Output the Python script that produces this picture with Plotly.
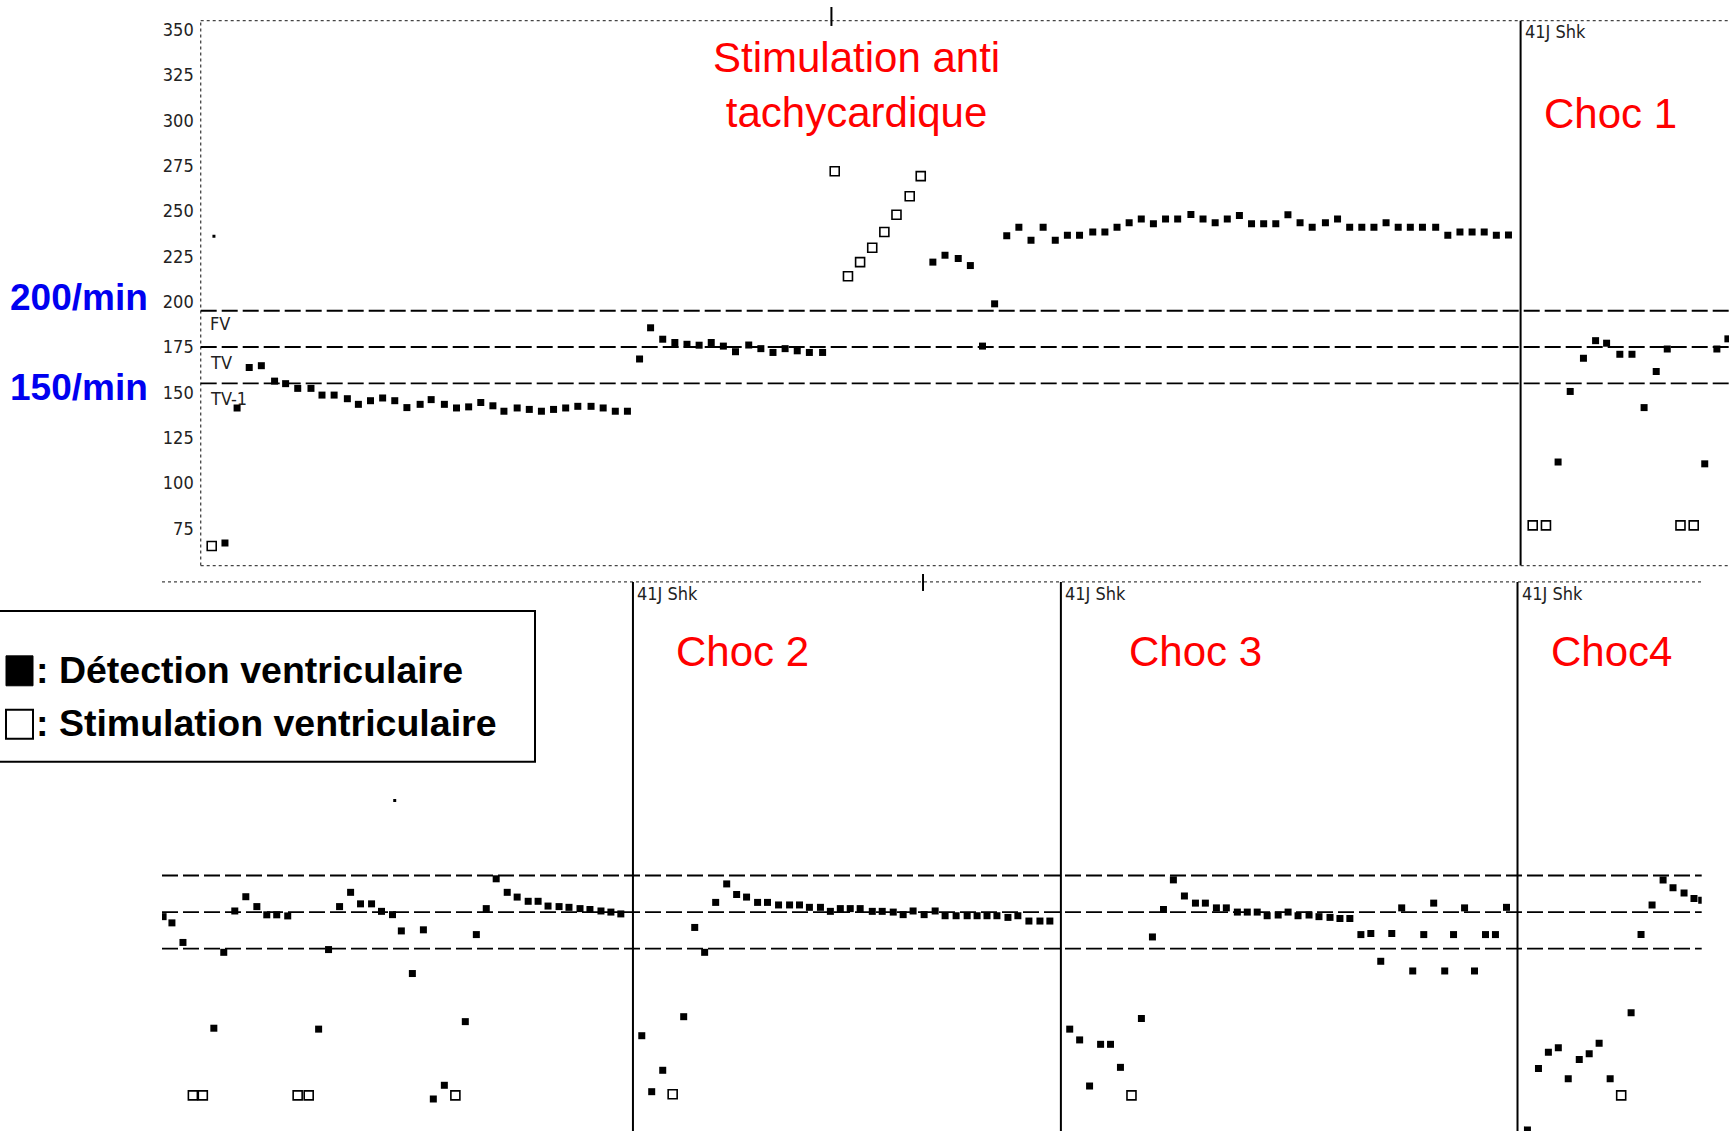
import plotly.graph_objects as go

W, H = 1729, 1131

# ---------------- data (time in trace units, rate in beats/min) ----------------
top_det_t = [204, 215, 226, 237, 249, 259, 270, 282, 292, 303, 315, 325, 336, 347, 358, 369,
             381, 391, 403, 414, 425, 436, 447, 457, 469, 480, 491, 502, 513, 524, 536, 547,
             558, 569,
             580, 590, 601, 612, 623, 634, 645, 656, 667, 679, 690, 701, 712, 723, 734, 746,
             846, 857, 869, 880, 891, 902,
             913, 924, 935, 946, 957, 968, 979, 991, 1002, 1013, 1024, 1035, 1046, 1057, 1068,
             1080, 1091, 1102, 1113, 1124, 1135, 1146, 1157, 1168, 1179, 1190, 1202, 1213,
             1224, 1235, 1246, 1257, 1268, 1279, 1290, 1302, 1313, 1324, 1335, 1346, 1357, 1368,
             1413, 1424, 1436, 1447, 1457, 1469, 1480, 1491, 1502, 1512, 1546, 1557, 1567]
top_det_bpm = [67, 141.4, 163.7, 164.7, 156.2, 154.8, 152.2, 152.2, 148.5, 148.5, 146.5, 143.4,
               145.4, 146.9, 145.4, 141.6, 143.4, 146, 143.4, 141.4, 142, 144.4, 142.6, 139.6,
               141.4, 140.6, 139.6, 140.6, 141.4, 142.3, 142.3, 141.4, 139.6, 139.6,
               168.4, 185.6, 179.3, 177.5, 176.5, 176, 177.5, 175.5, 172.4, 176.1, 174.1, 172.0,
               174.1, 172.9, 172, 172,
               221.8, 225.6, 223.8, 219.9, 175.5, 198.8,
               236.4, 241, 233.9, 241, 233.9, 236.6, 236.6, 238.4, 238.4, 241, 243.5, 245.5,
               242.9, 245.5, 245.5, 248.1, 245.5, 243.5, 245.5, 247.5, 242.9, 242.9, 242.9,
               247.9, 243.5, 241, 243.5, 245.5, 241, 241, 241, 243.5, 241, 241, 241, 241,
               236.6, 238.4, 238.4, 238.4, 236.6, 236.8,
               111.6, 150.5, 168.8, 178.5, 177.1, 171, 171, 141.6, 161.5, 173.9, 110.6, 173.9,
               179.5]
top_stim_t = [192, 757, 769, 780, 791, 802, 813, 825, 835, 1390, 1402, 1524, 1536]
top_stim_bpm = [65.3, 271.9, 214, 221.8, 229.7, 238.4, 247.9, 258.1, 269.2, 76.7, 76.7, 76.7, 76.7]

bot_det_t = [148, 156, 166, 194, 203, 213, 223, 233, 242, 251, 261, 289, 298, 308, 318, 327,
             337, 346, 356, 364, 374, 384, 393, 403, 422, 432, 441, 450, 460, 469, 479, 488,
             497, 507, 516, 526, 535, 545, 554, 563,
             582, 591, 601, 620, 630, 639, 649, 659, 668, 677, 687, 696, 706, 716, 725, 734,
             744, 753, 762, 771, 780, 791, 800, 810, 819, 828, 838, 848, 857, 867, 877, 886,
             895, 904, 914, 923, 933, 943, 952,
             970, 979, 988, 998, 1007, 1016, 1035, 1045, 1055, 1064, 1074, 1084, 1093, 1103,
             1112, 1122, 1131, 1140, 1149, 1159, 1168, 1177, 1187, 1196, 1206, 1215, 1224,
             1234, 1243, 1252, 1262, 1271, 1281, 1291, 1300, 1310, 1318, 1328, 1337, 1347,
             1356, 1366,
             1385, 1395, 1404, 1413, 1422, 1432, 1441, 1450, 1460, 1479, 1488, 1498, 1508,
             1517, 1527, 1536, 1543]
bot_det_bpm = [172.5, 169.1, 158.4, 111.5, 153, 175.6, 183.4, 178, 173.5, 173.5, 172.9, 111,
               154.5, 178, 185.8, 179.5, 179.5, 175.4, 173.6, 164.7, 141.4, 165.3, 72.8, 80.3,
               115.1, 162.7, 176.9, 193.2, 185.8, 183.2, 180.9, 180.9, 178.3, 178, 177.6,
               176.9, 176.4, 175.6, 175, 174,
               107.4, 76.8, 88.5, 117.8, 166.6, 153, 180.3, 190.4, 184.6, 183.2, 180.3, 180.3,
               178.9, 178.9, 178.9, 177.6, 177.6, 175.4, 176.9, 176.9, 176.9, 175.4, 175.4, 175,
               173.6, 175.6, 173.6, 175.6, 173, 173, 173, 173, 173, 173, 172.1, 173, 170.1,
               170.1, 170.1,
               111, 105.1, 79.9, 102.7, 102.7, 90.1, 116.8, 161.4, 176.4, 192.6, 183.8, 179.9,
               179.9, 177.3, 177.3, 175, 175, 175, 173, 173.4, 175, 173, 173.4, 172.5, 172.1,
               171.5, 171.5, 162.7, 163.3, 148.1, 163.3, 177.3, 142.8, 162.7, 179.9, 142.8,
               162.7, 177.3, 142.8, 162.7, 162.7, 177.6,
               55.9, 89.5, 98.3, 100.8, 83.8, 94.4, 97.6, 103.3, 83.8, 119.9, 162.7, 178.9,
               192.6, 188.3, 185.4, 182.4, 181.5]
bot_stim_t = [175, 184, 270, 280, 413, 610, 1026, 1470]
bot_stim_bpm = [74.8, 74.8, 74.8, 74.8, 74.8, 75.4, 74.8, 74.8]

speck_top_t, speck_top_bpm = [194], [236]
speck_bot_t, speck_bot_bpm = [358], [236]

top_shock_t = [1379]
bot_shock_t = [574, 962, 1376]
top_shock_names = ["Choc 1"]
bot_shock_names = ["Choc 2", "Choc 3", "Choc4"]
shock_tag = "41J Shk"

zone_bpm = [195, 175, 155]
zone_names = ["FV", "TV", "TV-1"]
zone_label_bpm = [188, 166.5, 146.5]
ytick_vals = [75, 100, 125, 150, 175, 200, 225, 250, 275, 300, 325, 350]
ytick_text = [str(v) for v in ytick_vals]
page_marks_top = [754]
page_marks_bot = [837]

# ---------------- layout helpers ----------------
def fx(px):
    return px / W

def fy(py):
    return 1 - py / H

SMALL = dict(family="Liberation Sans Narrow, Arial Narrow, DejaVu Sans Condensed, sans-serif",
             size=18, color="#222")
RED = dict(family="Liberation Sans, Arial, sans-serif", size=42, color="#FF0000")

fig = go.Figure()

def add_series(t, v, xa, ya, hollow, name):
    if hollow:
        mk = dict(symbol="square-open", size=9, color="black", line=dict(width=1.6, color="black"))
    else:
        mk = dict(symbol="square", size=7, color="black", line=dict(width=0))
    fig.add_trace(go.Scatter(x=t, y=v, mode="markers", marker=mk, xaxis=xa, yaxis=ya,
                             name=name, showlegend=False, cliponaxis=True))

add_series(top_det_t, top_det_bpm, "x", "y", False, "Détection ventriculaire")
add_series(top_stim_t, top_stim_bpm, "x", "y", True, "Stimulation ventriculaire")
add_series(bot_det_t, bot_det_bpm, "x2", "y2", False, "Détection ventriculaire")
add_series(bot_stim_t, bot_stim_bpm, "x2", "y2", True, "Stimulation ventriculaire")
fig.add_trace(go.Scatter(x=speck_top_t, y=speck_top_bpm, mode="markers", xaxis="x", yaxis="y",
                         marker=dict(symbol="square", size=3, color="black"), showlegend=False))
fig.add_trace(go.Scatter(x=speck_bot_t, y=speck_bot_bpm, mode="markers", xaxis="x2", yaxis="y2",
                         marker=dict(symbol="square", size=3, color="black"), showlegend=False))

shapes = []
annotations = []

# dotted frames
dot = dict(color="#444", width=1.3, dash="dot")
shapes.append(dict(type="line", xref="x domain", yref="y domain", x0=0, x1=1, y0=1, y1=1, line=dot))
shapes.append(dict(type="line", xref="x domain", yref="y domain", x0=0, x1=1, y0=0, y1=0, line=dot))
shapes.append(dict(type="line", xref="x domain", yref="y domain", x0=0, x1=0, y0=0, y1=1, line=dot))
shapes.append(dict(type="line", xref="x2 domain", yref="y2 domain", x0=0, x1=1, y0=1, y1=1, line=dot))

# zone threshold lines
for xa, ya in (("x", "y"), ("x2", "y2")):
    for z in zone_bpm:
        shapes.append(dict(type="line", xref=xa + " domain", yref=ya, x0=0, x1=1, y0=z, y1=z,
                           line=dict(color="black", width=1.8, dash="16px,5px")))

# shock markers
for t in top_shock_t:
    shapes.append(dict(type="line", xref="x", yref="y domain", x0=t, x1=t, y0=0, y1=1,
                       line=dict(color="black", width=2)))
    annotations.append(dict(x=t + 2, y=349, xref="x", yref="y", text=shock_tag, showarrow=False,
                            xanchor="left", yanchor="middle", font=SMALL))
for t in bot_shock_t:
    shapes.append(dict(type="line", xref="x2", yref="y2 domain", x0=t, x1=t, y0=0, y1=1,
                       line=dict(color="black", width=2)))
    annotations.append(dict(x=t + 2, y=349, xref="x2", yref="y2", text=shock_tag, showarrow=False,
                            xanchor="left", yanchor="middle", font=SMALL))

# page marks
for t in page_marks_top:
    shapes.append(dict(type="line", xref="x", yref="paper", x0=t, x1=t, y0=fy(24), y1=fy(5),
                       line=dict(color="black", width=2)))
for t in page_marks_bot:
    shapes.append(dict(type="line", xref="x2", yref="paper", x0=t, x1=t, y0=fy(590), y1=fy(573),
                       line=dict(color="black", width=2)))

# zone labels
for name, yv in zip(zone_names, zone_label_bpm):
    annotations.append(dict(x=189, y=yv, xref="x", yref="y", text=name, showarrow=False,
                            xanchor="left", yanchor="middle", font=SMALL))

# red annotations
annotations.append(dict(x=fx(856), y=fy(83), xref="paper", yref="paper",
                        text="Stimulation anti<br>tachycardique", showarrow=False,
                        xanchor="center", yanchor="middle", font=RED))
red_pos = [(1610, 112), (742, 651), (1195, 651), (1611, 651)]
for name, (px, py) in zip(top_shock_names + bot_shock_names, red_pos):
    annotations.append(dict(x=fx(px), y=fy(py), xref="paper", yref="paper", text=name,
                            showarrow=False, xanchor="center", yanchor="middle", font=RED))

# blue rate labels
BLUE = dict(family="Liberation Sans, Arial, sans-serif", size=37, color="#0000F0", weight="bold")
for txt, py in (("200/min", 296), ("150/min", 386)):
    annotations.append(dict(x=fx(79), y=fy(py), xref="paper", yref="paper", text="<b>%s</b>" % txt,
                            showarrow=False, xanchor="center", yanchor="middle", font=BLUE))

# legend box
shapes.append(dict(type="rect", xref="paper", yref="paper", x0=fx(-2), x1=fx(535), y0=fy(761), y1=fy(610),
                   line=dict(color="black", width=2), fillcolor="white", layer="above"))
shapes.append(dict(type="rect", xref="paper", yref="paper", x0=fx(6), x1=fx(33), y0=fy(685), y1=fy(655),
                   line=dict(color="black", width=1), fillcolor="black", layer="above"))
shapes.append(dict(type="rect", xref="paper", yref="paper", x0=fx(6), x1=fx(33), y0=fy(738), y1=fy(709),
                   line=dict(color="black", width=2), fillcolor="white", layer="above"))
LEG = dict(family="Liberation Sans, Arial, sans-serif", size=37.5, color="black")
annotations.append(dict(x=fx(34), y=fy(669), xref="paper", yref="paper",
                        text="<b>: Détection ventriculaire</b>", showarrow=False,
                        xanchor="left", yanchor="middle", font=LEG))
annotations.append(dict(x=fx(34), y=fy(722), xref="paper", yref="paper",
                        text="<b>: Stimulation ventriculaire</b>", showarrow=False,
                        xanchor="left", yanchor="middle", font=LEG))

fig.update_layout(
    width=W, height=H,
    margin=dict(l=0, r=0, t=0, b=0),
    paper_bgcolor="white", plot_bgcolor="white",
    showlegend=False,
    xaxis=dict(domain=[fx(200.7), 1.0], range=[182, 1568], showgrid=False, zeroline=False,
               showticklabels=False, showline=False, anchor="y"),
    yaxis=dict(domain=[fy(564.6), fy(18.7)], range=[54.5, 354.9], showgrid=False, zeroline=False,
               tickvals=ytick_vals, ticktext=ytick_text, ticks="", tickfont=SMALL,
               ticklabelstandoff=6, showline=False, anchor="x"),
    xaxis2=dict(domain=[fx(162), fx(1701.7)], range=[147, 1543], showgrid=False, zeroline=False,
                showticklabels=False, showline=False, anchor="y2"),
    yaxis2=dict(domain=[0, fy(581)], range=[55.3, 355.5], showgrid=False, zeroline=False,
                showticklabels=False, showline=False, anchor="x2"),
    shapes=shapes,
    annotations=annotations,
)

fig.write_html("out.html")
